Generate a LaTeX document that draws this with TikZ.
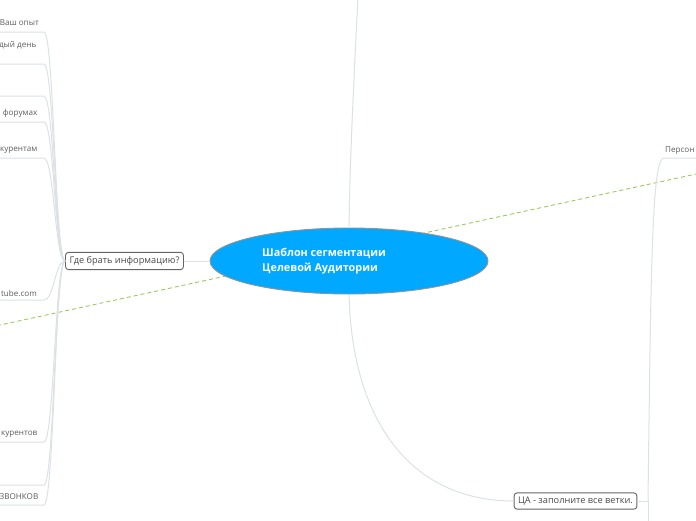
\documentclass[tikz,border=0pt]{standalone}
\usepackage{fontspec}
\setmainfont{Open Sans}
\usetikzlibrary{shapes.geometric}
\definecolor{hubblue}{HTML}{00A8FF}
\definecolor{wiregray}{HTML}{DCE1E5}
\definecolor{dashgreen}{HTML}{9ACB58}
\definecolor{inkgray}{HTML}{4A4A4A}

\tikzset{
  wire/.style={draw=wiregray, line width=1pt},
  topic/.style={draw=inkgray!85, rounded corners=3pt, line width=0.9pt, fill=white,
    text=inkgray, font=\fontsize{9.2}{11}\selectfont, inner xsep=4pt, inner ysep=4pt},
  leaf/.style={text=inkgray!90, font=\fontsize{8.1}{10}\selectfont, inner sep=0pt, anchor=east}
}

\begin{document}
\begin{tikzpicture}[x=1pt, y=-1pt]
  \useasboundingbox (0,0) rectangle (696,520);
  \clip (0,0) rectangle (696,520);

  % dashed relation line behind everything
  \coordinate (G1) at (-10,327.2);
  \coordinate (G2) at (710,171);
  \draw[dashgreen, line width=0.9pt, dash pattern=on 4pt off 3pt] (G1) -- (G2);

  % central topic
  \node[ellipse, fill=hubblue, draw=gray!85, line width=0.9pt,
        minimum width=278pt, minimum height=66pt, inner sep=0pt] (root) at (349,261) {};
  \node[anchor=west, align=left, text=white, inner sep=0pt,
        font=\fontsize{10.8}{15}\selectfont\bfseries] (rootlabel) at (262,261)
        {Шаблон сегментации\\Целевой Аудитории};

  % main branches
  \node[topic] (gde) at (124.5,261) {Где брать информацию?};
  \node[topic] (cza) at (575.5,501) {ЦА - заполните все ветки.};
  \coordinate (up) at (358,-5);

  \draw[wire] (root.north) .. controls (350,150) and (355,60) .. (up);
  \draw[wire] (gde.east) -- (root.west);
  \draw[wire] (root.south) .. controls (352,420) and (410,501) .. (cza.west);

  % right side children
  \coordinate (R) at (648,501);
  \coordinate (Rdown) at (648,530);
  \coordinate (P) at (664,158);
  \coordinate (Pend) at (700,158);
  \node[leaf, anchor=west] (person) at (665,151) {Персон};
  \draw[wire] (cza.east) -- (R) -- (Rdown);
  \draw[wire] (R) .. controls (651,260) and (652,158) .. (P) -- (Pend);

  % left side children
  \coordinate (U1) at (44,32);
  \coordinate (U2) at (44,64);
  \coordinate (U3) at (44,96);
  \coordinate (U4) at (44,122);
  \coordinate (U5) at (44,158);
  \coordinate (U6) at (44,300);
  \coordinate (U7) at (44,442);
  \coordinate (U8) at (44,485);
  \coordinate (U9) at (44,505);

  \draw[wire] (gde.west) .. controls (55,261) and (54,32) .. (U1) -- ++(-60,0);
  \draw[wire] (gde.west) .. controls (55,261) and (54,64) .. (U2) -- ++(-60,0);
  \draw[wire] (gde.west) .. controls (55,261) and (54,96) .. (U3) -- ++(-60,0);
  \draw[wire] (gde.west) .. controls (55,261) and (54,122) .. (U4) -- ++(-60,0);
  \draw[wire] (gde.west) .. controls (55,261) and (54,158) .. (U5) -- ++(-60,0);
  \draw[wire] (gde.west) .. controls (55,261) and (54,300) .. (U6) -- ++(-60,0);
  \draw[wire] (gde.west) .. controls (55,261) and (54,442) .. (U7) -- ++(-60,0);
  \draw[wire] (gde.west) .. controls (55,261) and (54,485) .. (U8) -- ++(-60,0);
  \draw[wire] (gde.west) .. controls (55,261) and (54,505) .. (U9) -- ++(-60,0);

  \node[leaf] (opyt) at (39,23) {Ваш опыт};
  \node[leaf] (den) at (36.5,45) {дый день};
  \node[leaf] (forum) at (37.5,113) {форумах};
  \node[leaf] (konkA) at (37.5,150) {курентам};
  \node[leaf] (tube) at (37,293) {tube.com};
  \node[leaf] (konkB) at (37.5,434) {курентов};
  \node[leaf] (zvon) at (38.5,497) {ЗВОНКОВ};
\end{tikzpicture}
\end{document}
